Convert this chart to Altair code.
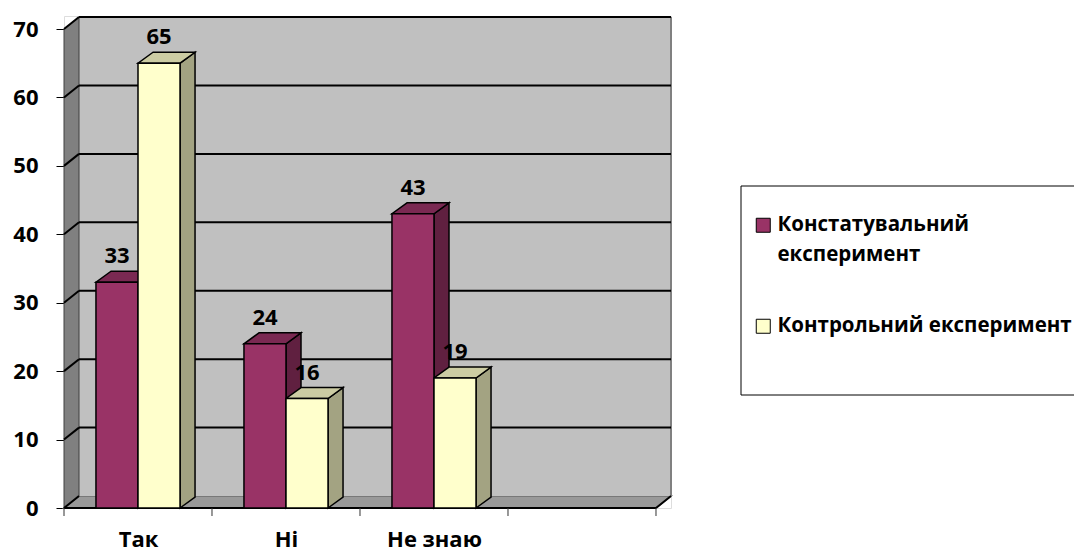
import altair as alt
import pandas as pd

# ---------------- data ----------------
categories = ["Так", "Ні", "Не знаю"]
series_names = ["Констатувальний експеримент", "Контрольний експеримент"]
konstat_values = [33, 24, 43]
kontrol_values = [65, 16, 19]
y_ticks = [0, 10, 20, 30, 40, 50, 60, 70]
n_slots = 4  # category slots along the floor (last one empty)

# ---------------- style ----------------
front_colors = ["#993366", "#FFFFCC"]
top_colors = ["#7A2952", "#CCCCA3"]
side_colors = ["#602040", "#A3A382"]
FONT = "Open Sans"
FS = 22
DX = 0.1014      # 3-D depth along x (slot units)
DY_WALL = 1.75   # 3-D depth along y for walls (value units)
DY_BAR = 1.6     # 3-D depth along y for bars
BAR_W = 0.284    # bar width (slot units)
Y_MAX = 71.9
W, H = 607, 492

xs = alt.Scale(domain=[0, n_slots + DX], nice=False, zero=False)
ys = alt.Scale(domain=[0, Y_MAX], nice=False, zero=False)

label_expr = "[" + ",".join(f"'{c}'" for c in categories) + "][floor(datum.value)]"
x_axis = alt.Axis(values=[i + 0.5 for i in range(len(categories))], labelExpr=label_expr,
                  ticks=False, domain=False, grid=False, labelPadding=21,
                  labelFont=FONT, labelFontSize=FS, labelFontWeight="bold",
                  labelColor="black", labelBaseline="top", title=None)
y_axis = alt.Axis(values=y_ticks, domain=False, grid=False, tickSize=8,
                  tickColor="black", tickWidth=1, labelPadding=18,
                  labelFont=FONT, labelFontSize=FS, labelFontWeight="bold",
                  labelColor="black", title=None)


def X(f):
    return alt.X(f, scale=xs, axis=x_axis, title=None)


def Y(f):
    return alt.Y(f, scale=ys, axis=y_axis, title=None, stack=None)


# ---------------- tables ----------------
bars, side, top = [], [], []
for s_i, (s, vals) in enumerate(zip(series_names, [konstat_values, kontrol_values])):
    for c_i, (c, v) in enumerate(zip(categories, vals)):
        xl = c_i + 0.5 + (s_i - 1) * BAR_W
        xr = xl + BAR_W
        bid = f"{s_i}-{c_i}"
        bars.append(dict(cat=c, series=s, bar=bid, value=v, xl=xl, xr=xr, xm=(xl + xr) / 2))
        side.append(dict(bar=bid, col=side_colors[s_i], x=xr, y=0, y2=v))
        side.append(dict(bar=bid, col=side_colors[s_i], x=xr + DX, y=DY_BAR, y2=v + DY_BAR))
        top.append(dict(bar=bid, col=top_colors[s_i], y=v, x=xl, x2=xr))
        top.append(dict(bar=bid, col=top_colors[s_i], y=v + DY_BAR, x=xl + DX, x2=xr + DX))
bars = pd.DataFrame(bars)
side = pd.DataFrame(side)
top = pd.DataFrame(top)

top_tick = y_ticks[-1]
floor = pd.DataFrame([dict(y=0, x=0, x2=n_slots), dict(y=DY_WALL, x=DX, x2=n_slots + DX)])
left_wall = pd.DataFrame([dict(x=0, y=0, y2=top_tick), dict(x=DX, y=DY_WALL, y2=top_tick + DY_WALL)])
back_wall = pd.DataFrame([dict(x=DX, x2=n_slots + DX, y=DY_WALL, y2=top_tick + DY_WALL)])
grid = pd.DataFrame(
    [dict(x=DX, x2=n_slots + DX, y=t + DY_WALL, y2=t + DY_WALL) for t in y_ticks[1:]]
    + [dict(x=0, x2=DX, y=t, y2=t + DY_WALL) for t in y_ticks[1:]]
)
right_edge = pd.DataFrame([dict(x=n_slots + DX, y=DY_WALL, y2=top_tick + DY_WALL)])
floor_edges = pd.DataFrame([dict(x=0, x2=n_slots, y=0, y2=0),
                            dict(x=n_slots, x2=n_slots + DX, y=0, y2=DY_WALL),
                            dict(x=0, x2=DX, y=0, y2=DY_WALL)])
slot_ticks = pd.DataFrame(dict(x=list(range(n_slots + 1))))
frame_df = pd.DataFrame([dict(k=1)])

floor_l = alt.Chart(floor).mark_area(orient="horizontal", fill="#999999", stroke="#6E6E6E",
                                     strokeWidth=1.5, interpolate="linear").encode(
    y=Y("y:Q"), x=X("x:Q"), x2="x2:Q")

lwall_l = alt.Chart(left_wall).mark_area(orient="vertical", fill="#808080", stroke="#404040",
                                         strokeWidth=1, interpolate="linear").encode(
    x=X("x:Q"), y=Y("y:Q"), y2="y2:Q")

bwall_l = alt.Chart(back_wall).mark_rect(fill="#C0C0C0").encode(
    x=X("x:Q"), x2="x2:Q", y=Y("y:Q"), y2="y2:Q")

redge_l = alt.Chart(right_edge).mark_rule(color="#808080", strokeWidth=2).encode(
    x=X("x:Q"), y=Y("y:Q"), y2="y2:Q")

grid_l = alt.Chart(grid).mark_rule(color="black", strokeWidth=2).encode(
    x=X("x:Q"), x2="x2:Q", y=Y("y:Q"), y2="y2:Q")

fedge_l = alt.Chart(floor_edges).mark_rule(color="black", strokeWidth=2).encode(
    x=X("x:Q"), x2="x2:Q", y=Y("y:Q"), y2="y2:Q")

ticks_l = alt.Chart(slot_ticks).mark_rule(color="#333333", strokeWidth=1).encode(
    x=X("x:Q"), y=alt.value(H), y2=alt.value(H + 8))

side_l = alt.Chart(side).mark_area(orient="vertical", stroke="black", strokeWidth=1.5,
                                   interpolate="linear").encode(
    x=X("x:Q"), y=Y("y:Q"), y2="y2:Q",
    color=alt.Color("col:N", scale=None), detail="bar:N")

top_l = alt.Chart(top).mark_area(orient="horizontal", stroke="black", strokeWidth=1.5,
                                 interpolate="linear").encode(
    y=Y("y:Q"), x=X("x:Q"), x2="x2:Q",
    color=alt.Color("col:N", scale=None), detail="bar:N")

first_words = series_names[0].split(" ")
legend_expr = (f"datum.label == '{series_names[0]}' ? "
               f"['{first_words[0]}', '{first_words[1]}'] : datum.label")

front_l = alt.Chart(bars).mark_rect(stroke="black", strokeWidth=1.5).encode(
    x=X("xl:Q"), x2="xr:Q",
    y=Y("value:Q"), y2=alt.datum(0),
    color=alt.Color("series:N", scale=alt.Scale(domain=series_names, range=front_colors),
                    legend=alt.Legend(title=None, orient="none", legendX=689, legendY=199,
                                      symbolType="square", symbolSize=196,
                                      symbolStrokeColor="black", symbolStrokeWidth=1,
                                      labelFont=FONT, labelFontSize=20.5, labelFontWeight="bold",
                                      labelColor="black", labelLimit=500, labelOffset=4,
                                      rowPadding=50, labelExpr=legend_expr)),
)

text_l = alt.Chart(bars).mark_text(font=FONT, fontSize=FS, fontWeight="bold", color="black",
                                   dy=-19, baseline="alphabetic").encode(
    x=X("xm:Q"), y=Y("value:Q"), text="value:Q")

frame_l = alt.Chart(frame_df).mark_rect(filled=False, stroke="black", strokeWidth=1).encode(
    x=alt.value(677), x2=alt.value(1030), y=alt.value(170), y2=alt.value(379))

chart = alt.layer(
    floor_l, bwall_l, redge_l, lwall_l, grid_l, fedge_l, ticks_l,
    side_l, top_l, front_l, text_l, frame_l
).properties(
    width=W, height=H,
    autosize=alt.AutoSizeParams(type="none"),
    padding={"left": 64, "top": 16, "right": 1074 - 64 - W, "bottom": 553 - 16 - H},
).configure_view(stroke=None).configure(
    background="white",
    style={"guide-label": {"lineHeight": 30}},
)

chart.save("out.html", embed_options={"renderer": "svg", "actions": False})
